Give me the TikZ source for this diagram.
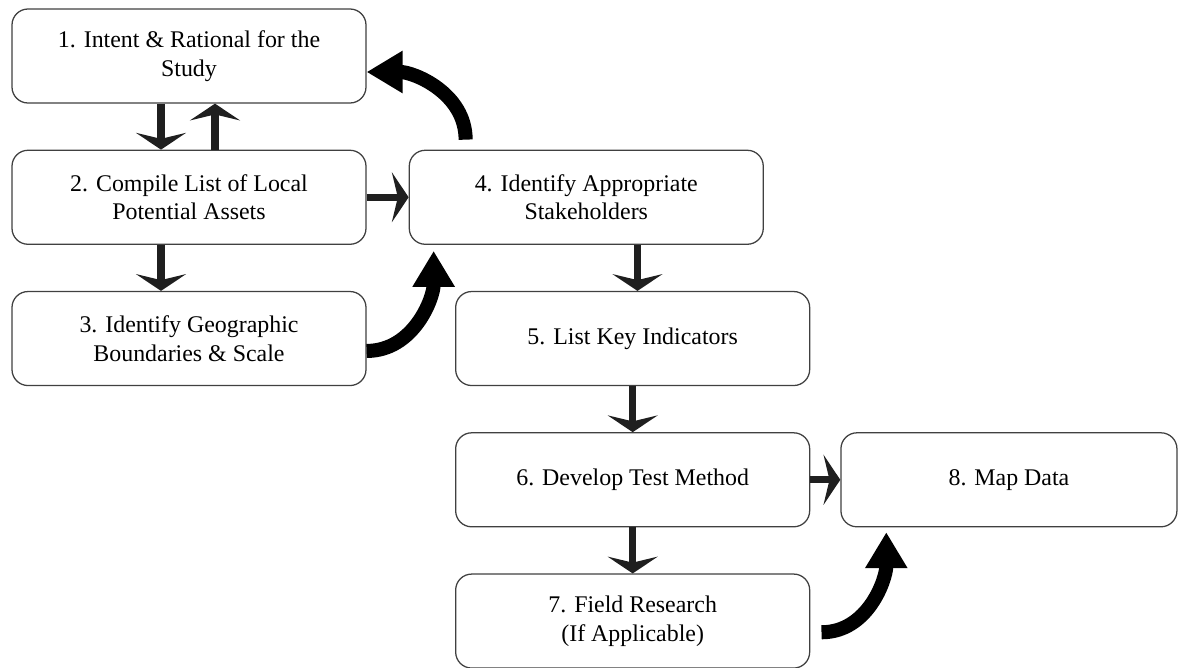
\documentclass[tikz,border=0pt]{standalone}
\usepackage{fontspec}
\setmainfont{Liberation Serif}
\usetikzlibrary{arrows.meta,positioning,calc}

\begin{document}
\begin{tikzpicture}[
    node distance=1.15cm,
    box/.style={draw=black!75, rectangle, rounded corners=0.4cm, minimum width=8.85cm, minimum height=2.35cm, align=center, line width=0.9pt, fill=white, font=\fontsize{17}{20.5}\selectfont},
    arrow/.style={-{Stealth[length=0.42cm, width=1.25cm, inset=0.15cm]}, line width=5pt, draw=black!88},
    bigarrow/.style={-{Triangle[length=0.9cm, width=1.0cm]}, line width=10pt, draw=black}
]
    \useasboundingbox (0,0) rectangle (29.45,-16.675);

    % Nodes
    \node[box] (b1) at (4.725,-1.4) {1. Intent \& Rational for the\\Study};
    \node[box, below=of b1] (b2) {2. Compile List of Local\\Potential Assets};
    \node[box, below=of b2] (b3) {3. Identify Geographic\\Boundaries \& Scale};
    \node[box, right=1.05cm of b2] (b4) {4. Identify Appropriate\\Stakeholders};
    \node[box, below=of b4, xshift=1.16cm] (b5) {5. List Key Indicators};
    \node[box, below=of b5] (b6) {6. Develop Test Method};
    \node[box, below=of b6] (b7) {7. Field Research\\(If Applicable)};
    \node[box, right=0.75cm of b6, minimum width=8.4cm] (b8) {8. Map Data};

    % Arrows
    \draw[arrow] ([xshift=-0.7cm]b1.south) -- ([xshift=-0.7cm]b2.north);
    \draw[arrow] ([xshift=0.65cm]b2.north) -- ([xshift=0.65cm]b1.south);
    \draw[arrow] ([xshift=-0.7cm]b2.south) -- ([xshift=-0.7cm]b3.north);
    \draw[arrow] (b2) -- (b4);
    \draw[arrow] ([xshift=0.12cm]b4.south -| b5.north) -- ([xshift=0.12cm]b5.north);
    \draw[arrow] (b5) -- (b6);
    \draw[arrow] (b6) -- (b7);
    \draw[arrow] (b6) -- (b8);

    % Curved arrows
    \coordinate (s41) at ($(b4.north west)+(1.425,0.25)$);
    \coordinate (s78) at ($(b7.east)+(0.28,-0.28)$);
    \draw[bigarrow] (s41) to[out=90, in=0] ([yshift=-0.4cm]b1.east);
    \draw[bigarrow] ([yshift=-0.31cm]b3.east) to[out=0, in=-90] ($(b4.south west)+(0.625,-0.15)$);
    \draw[bigarrow] (s78) to[out=0, in=-90] ($(b8.south west)+(1.15,-0.12)$);

\end{tikzpicture}
\end{document}
